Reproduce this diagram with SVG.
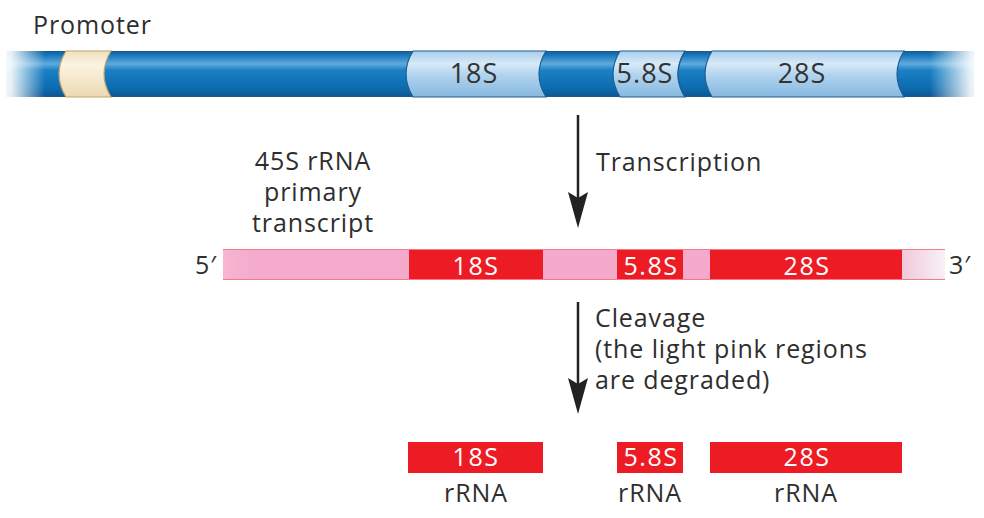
<svg xmlns="http://www.w3.org/2000/svg" width="984" height="518" viewBox="0 0 984 518">
<style>
  text { font-family: "Open Sans", "Liberation Sans", sans-serif; fill: #2e2e2e; }
  .lbl { font-size: 25px; letter-spacing: 0.9px; }
  .seg { font-size: 27px; letter-spacing: 1px; text-anchor: middle; fill: #333333; }
  .wseg { font-size: 25px; letter-spacing: 1.5px; text-anchor: middle; fill: #ffffff; }
  .red { fill: #ed1c24; }
  .pink { fill: #f5aacb; }
  .dark { fill: url(#gDark); }
  .light { fill: url(#gLight); stroke: #1d5f93; stroke-width: 1.2; }
  .arrow { stroke: #222; stroke-width: 2.5; }
  .head { fill: #222; }
</style>
<defs>
  <linearGradient id="gDark" x1="0" y1="0" x2="0" y2="1">
    <stop offset="0" stop-color="#1b5f98"/>
    <stop offset="0.06" stop-color="#0f6fb4"/>
    <stop offset="0.28" stop-color="#5eaadc"/>
    <stop offset="0.42" stop-color="#1a80c4"/>
    <stop offset="0.8" stop-color="#0d6cb0"/>
    <stop offset="1" stop-color="#0c5690"/>
  </linearGradient>
  <linearGradient id="gLight" x1="0" y1="0" x2="0" y2="1">
    <stop offset="0" stop-color="#a8cdeb"/>
    <stop offset="0.28" stop-color="#d8eaf8"/>
    <stop offset="0.5" stop-color="#b3d5ef"/>
    <stop offset="1" stop-color="#86b8e0"/>
  </linearGradient>
  <linearGradient id="gBeige" x1="0" y1="0" x2="0" y2="1">
    <stop offset="0" stop-color="#f0e0bd"/>
    <stop offset="0.3" stop-color="#fbf3e2"/>
    <stop offset="1" stop-color="#ecd9b2"/>
  </linearGradient>
  <linearGradient id="fadeL" x1="0" y1="0" x2="1" y2="0">
    <stop offset="0" stop-color="#ffffff" stop-opacity="1"/>
    <stop offset="0.25" stop-color="#ffffff" stop-opacity="0.9"/>
    <stop offset="1" stop-color="#ffffff" stop-opacity="0"/>
  </linearGradient>
  <linearGradient id="fadeR" x1="0" y1="0" x2="1" y2="0">
    <stop offset="0" stop-color="#ffffff" stop-opacity="0"/>
    <stop offset="0.75" stop-color="#ffffff" stop-opacity="0.9"/>
    <stop offset="1" stop-color="#ffffff" stop-opacity="1"/>
  </linearGradient>
  <linearGradient id="gTail" x1="0" y1="0" x2="1" y2="0">
    <stop offset="0" stop-color="#f1c8da"/>
    <stop offset="1" stop-color="#f8f1f5"/>
  </linearGradient>
  <linearGradient id="gHead" x1="0" y1="0" x2="1" y2="0">
    <stop offset="0" stop-color="#f6b6d1"/>
    <stop offset="0.15" stop-color="#f5accc"/>
    <stop offset="1" stop-color="#f5aacb"/>
  </linearGradient>
</defs>

<g id="dna">
  <rect x="6" y="51" width="968" height="46" class="dark"/>
  <line x1="6" y1="51.5" x2="974" y2="51.5" stroke="#1d5a8c" stroke-width="1"/>
  <line x1="6" y1="96.5" x2="974" y2="96.5" stroke="#1d5a8c" stroke-width="1"/>
  <path id="promoter" d="M66,51 L111,51 Q97,74 111,97 L66,97 Q52,74 66,51 Z" fill="url(#gBeige)" stroke="#c3a46a" stroke-width="1.2"/>
  <g id="seg18S">
    <path class="light" d="M413,51 L546,51 Q532,74 546,97 L413,97 Q399,74 413,51 Z"/>
    <text class="seg" x="474" y="83">18S</text>
  </g>
  <g id="seg58S">
    <path class="light" d="M620,51 L685,51 Q671,74 685,97 L620,97 Q606,74 620,51 Z"/>
    <text class="seg" x="645" y="83">5.8S</text>
  </g>
  <path d="M685,51 Q671,74 685,97" fill="none" stroke="#1d5f93" stroke-width="1.2"/>
  <g id="seg28S">
    <path class="light" d="M712,51 L904,51 Q890,74 904,97 L712,97 Q698,74 712,51 Z"/>
    <text class="seg" x="802" y="83">28S</text>
  </g>
  <rect x="0" y="48" width="45" height="52" fill="url(#fadeL)"/>
  <rect x="930" y="48" width="54" height="52" fill="url(#fadeR)"/>
</g>

<g id="labels">
  <text class="lbl" x="33" y="34">Promoter</text>
  <text class="lbl" x="313" y="170" text-anchor="middle">45S rRNA</text>
  <text class="lbl" x="313" y="201" text-anchor="middle">primary</text>
  <text class="lbl" x="313" y="232" text-anchor="middle">transcript</text>
  <text class="lbl" x="596" y="171">Transcription</text>
  <text class="lbl" x="595" y="327">Cleavage</text>
  <text class="lbl" x="595" y="358">(the light pink regions</text>
  <text class="lbl" x="595" y="389">are degraded)</text>
</g>

<g id="transcript">
  <rect x="223" y="249" width="186" height="31" fill="url(#gHead)"/>
  <rect x="543" y="249" width="74" height="31" class="pink"/>
  <rect x="683" y="249" width="27" height="31" class="pink"/>
  <rect x="902" y="249" width="43" height="31" fill="url(#gTail)"/>
  <rect x="409" y="249" width="134" height="31" class="red"/>
  <rect x="617" y="249" width="66" height="31" class="red"/>
  <rect x="710" y="249" width="192" height="31" class="red"/>
  <line x1="223" y1="249.5" x2="945" y2="249.5" stroke="#f27a8a" stroke-width="1"/>
  <line x1="223" y1="279.5" x2="945" y2="279.5" stroke="#f27a8a" stroke-width="1"/>
  <text class="wseg" x="476" y="275">18S</text>
  <text class="wseg" x="651" y="275">5.8S</text>
  <text class="wseg" x="807" y="275">28S</text>
  <text class="lbl" x="195" y="274">5′</text>
  <text class="lbl" x="949" y="274">3′</text>
</g>

<g id="rRNA18S">
  <rect x="408" y="442" width="135" height="31" class="red"/>
  <text class="wseg" x="476" y="466">18S</text>
  <text class="lbl" x="476" y="502" text-anchor="middle">rRNA</text>
</g>
<g id="rRNA58S">
  <rect x="617" y="442" width="66" height="31" class="red"/>
  <text class="wseg" x="651" y="466">5.8S</text>
  <text class="lbl" x="650" y="502" text-anchor="middle">rRNA</text>
</g>
<g id="rRNA28S">
  <rect x="710" y="442" width="192" height="31" class="red"/>
  <text class="wseg" x="807" y="466">28S</text>
  <text class="lbl" x="806" y="502" text-anchor="middle">rRNA</text>
</g>

<g id="connectors">
  <line class="arrow" x1="578" y1="115" x2="578" y2="200"/>
  <path class="head" d="M568,192 L578,198 L588,192 L578,228 Z"/>
  <line class="arrow" x1="578" y1="302" x2="578" y2="385"/>
  <path class="head" d="M568,378 L578,384 L588,378 L578,414 Z"/>
</g>
</svg>
